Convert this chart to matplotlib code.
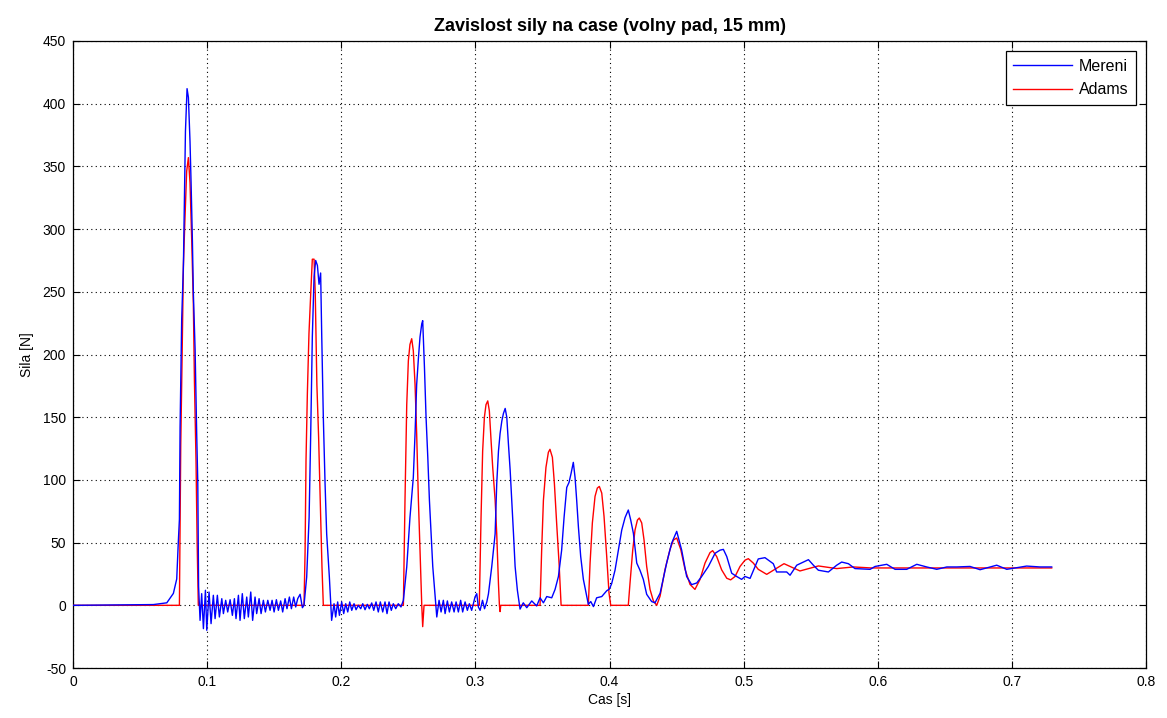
import matplotlib
matplotlib.use("Agg")
import matplotlib.pyplot as plt
import numpy as np

plt.rcParams['font.family'] = ['Liberation Sans', 'DejaVu Sans']

t_mereni = [0.0, 0.0599, 0.0699, 0.0748, 0.0773, 0.0785, 0.0793, 0.0798, 0.0810, 0.0823,
            0.0838, 0.0850, 0.0860, 0.0872, 0.0880, 0.0890, 0.0897, 0.0910, 0.0922, 0.0930,
            0.0936, 0.0947, 0.0959, 0.0972, 0.0987, 0.0997, 0.1014, 0.1029, 0.1046, 0.1059,
            0.1076, 0.1091, 0.1109, 0.1121, 0.1138, 0.1153, 0.1171, 0.1188, 0.1203, 0.1215,
            0.1233, 0.1245, 0.1262, 0.1277, 0.1295, 0.1307, 0.1325, 0.1339, 0.1357, 0.1369,
            0.1387, 0.1402, 0.1419, 0.1434, 0.1452, 0.1469, 0.1484, 0.1499, 0.1516, 0.1531,
            0.1548, 0.1563, 0.1581, 0.1595, 0.1613, 0.1628, 0.1645, 0.1660, 0.1675, 0.1693,
            0.1710, 0.1722, 0.1742, 0.1760, 0.1772, 0.1784, 0.1797, 0.1809, 0.1822, 0.1834,
            0.1846, 0.1854, 0.1866, 0.1879, 0.1891, 0.1911, 0.1928, 0.1946, 0.1958, 0.1973,
            0.1986, 0.2003, 0.2018, 0.2033, 0.2048, 0.2063, 0.2078, 0.2095, 0.2110, 0.2127,
            0.2145, 0.2160, 0.2177, 0.2194, 0.2209, 0.2227, 0.2242, 0.2259, 0.2276, 0.2291,
            0.2309, 0.2326, 0.2341, 0.2356, 0.2373, 0.2388, 0.2406, 0.2425, 0.2445, 0.2463,
            0.2488, 0.2512, 0.2537, 0.2550, 0.2562, 0.2575, 0.2587, 0.2600, 0.2607, 0.2620,
            0.2632, 0.2645, 0.2657, 0.2670, 0.2682, 0.2700, 0.2712, 0.2729, 0.2744, 0.2761,
            0.2774, 0.2791, 0.2806, 0.2823, 0.2841, 0.2856, 0.2873, 0.2890, 0.2905, 0.2923,
            0.2940, 0.2955, 0.2972, 0.2985, 0.2997, 0.3010, 0.3022, 0.3035, 0.3053, 0.3068,
            0.3085, 0.3097, 0.3122, 0.3147, 0.3159, 0.3172, 0.3184, 0.3197, 0.3209, 0.3222,
            0.3234, 0.3246, 0.3259, 0.3271, 0.3284, 0.3296, 0.3313, 0.3333, 0.3357, 0.3383,
            0.3420, 0.3457, 0.3482, 0.3507, 0.3532, 0.3569, 0.3594, 0.3619, 0.3643, 0.3661,
            0.3681, 0.3698, 0.3713, 0.3730, 0.3743, 0.3755, 0.3768, 0.3785, 0.3805, 0.3825,
            0.3842, 0.3860, 0.3880, 0.3904, 0.3942, 0.3979, 0.3999, 0.4016, 0.4041, 0.4066,
            0.4091, 0.4116, 0.4140, 0.4158, 0.4178, 0.4203, 0.4227, 0.4252, 0.4277, 0.4314,
            0.4339, 0.4377, 0.4426, 0.4463, 0.4501, 0.4538, 0.4575, 0.4612, 0.4650, 0.4687,
            0.4737, 0.4787, 0.4824, 0.4849, 0.4874, 0.4911, 0.4948, 0.4985, 0.5010, 0.5048,
            0.5085, 0.5109, 0.5159, 0.5221, 0.5246, 0.5321, 0.5346, 0.5396, 0.5483, 0.5520,
            0.5557, 0.5632, 0.5694, 0.5731, 0.5781, 0.5830, 0.5943, 0.5980, 0.6067, 0.6129,
            0.6216, 0.6291, 0.6365, 0.6440, 0.6515, 0.6589, 0.6688, 0.6763, 0.6887, 0.6962,
            0.7110, 0.7210, 0.7297]
f_mereni = [0, 0.6, 2, 9.5, 21, 51, 68.6, 142, 228, 272,
            378, 412, 405, 370, 337, 290, 249, 204, 136, 98,
            15, -12, 9.3, -18.6, 12, -19.9, 10.6, -14.6, 8, -10.6,
            8, -9.3, 5.3, -6.6, 4, -5.3, 4.5, -8, 5.3, -10.6,
            8, -12, 9.3, -10.6, 6.6, -9.3, 10.6, -12, 6.6, -6.6,
            5.3, -6.6, 4, -5.3, 4, -4, 4, -5.3, 4.5, -4,
            3.5, -5.3, 5.3, -2.7, 6.6, -2.7, 6.6, -1.3, 5.3, 8.8,
            -1.9, 0, 22.6, 70, 137, 214, 262, 275, 271, 256,
            265, 216, 150, 97, 57, 22.6, -12, 1.3, -9.3, 2.7,
            -8, 2.7, -6.6, 1.3, -5.3, 2.7, -4, 1.3, -3.5, 0,
            -2.7, 1.3, -3.5, 0.8, -2.7, 1.9, -4, 2.7, -5.3, 2.7,
            -5.3, 2.7, -6.6, 2.7, -4, 1.3, -2.7, 1.3, -1.3, 4,
            30.6, 70, 102, 137, 176, 197, 214, 224.5, 227, 190,
            150, 118, 84, 57, 31, 7, -9.3, 4, -5.3, 4,
            -6.6, 3.5, -5.3, 2.7, -5.3, 2.7, -5.3, 4, -5.3, 2.7,
            -4, 1.3, -4, 1.3, 6.6, 9.3, -1.3, -4, 4, -2.7,
            2.7, 9, 31, 57, 97, 123, 137, 147, 153, 157,
            150, 129, 108, 84, 57, 31, 12, -3, 2, -1.9,
            3.5, -0.5, 6, 2, 7, 6, 12.7, 23, 44, 70,
            94, 98, 105, 114, 102, 84, 62.5, 39, 20.7, 10,
            0.8, 3, -1, 6, 7, 11.6, 13, 17.3, 28, 44,
            60, 70, 76, 68, 57.4, 33.7, 28, 20.7, 8.8, 3,
            2, 9.6, 33.7, 49.5, 59, 44, 23, 16.5, 17.8, 23,
            31, 41.5, 44, 44.6, 38.9, 25.6, 23, 20.7, 23, 21.5,
            31, 37, 38, 33.2, 26.6, 26.6, 24, 32, 36.4, 32,
            28, 26.6, 32, 34.5, 33.2, 29.3, 28.7, 31, 32.7, 28.7,
            28.7, 32.7, 30.6, 28.7, 30.6, 30.6, 31, 28.4, 32, 28.7,
            31.3, 30.6, 30.6]

# Adams (simulated force)
t_adams = [0.0, 0.0793, 0.0803, 0.0813, 0.0823, 0.0835, 0.0847, 0.0860, 0.0872, 0.0885,
           0.0897, 0.0905, 0.0917, 0.0925, 0.0934, 0.1722, 0.1730, 0.1737, 0.1747, 0.1759,
           0.1772, 0.1784, 0.1797, 0.1806, 0.1818, 0.1831, 0.1843, 0.1856, 0.1866, 0.2463,
           0.2475, 0.2488, 0.2500, 0.2512, 0.2525, 0.2537, 0.2550, 0.2562, 0.2575, 0.2587,
           0.2600, 0.2607, 0.2617, 0.3029, 0.3042, 0.3054, 0.3067, 0.3079, 0.3092, 0.3104,
           0.3117, 0.3129, 0.3147, 0.3159, 0.3172, 0.3179, 0.3184, 0.3189, 0.3482, 0.3494,
           0.3507, 0.3526, 0.3544, 0.3556, 0.3574, 0.3589, 0.3606, 0.3624, 0.3639, 0.3842,
           0.3855, 0.3872, 0.3892, 0.3909, 0.3924, 0.3942, 0.3959, 0.3979, 0.3996, 0.4009,
           0.4140, 0.4153, 0.4173, 0.4190, 0.4208, 0.4222, 0.4240, 0.4257, 0.4277, 0.4302,
           0.4327, 0.4352, 0.4377, 0.4414, 0.4451, 0.4476, 0.4501, 0.4531, 0.4563, 0.4600,
           0.4637, 0.4675, 0.4712, 0.4749, 0.4769, 0.4799, 0.4836, 0.4874, 0.4903, 0.4936,
           0.4973, 0.5010, 0.5035, 0.5072, 0.5109, 0.5172, 0.5301, 0.5420, 0.5557, 0.5694,
           0.5818, 0.5950, 0.7297]
f_adams = [0, 0, 127.6, 198, 272, 310, 346, 357, 337, 290,
           240, 179, 114, 51, 0, 0, 42.5, 115.6, 168.8, 216.7,
           248.3, 276, 276, 248, 176, 134, 83.7, 30.6, 0, 0,
           83.7, 160, 195, 208, 212.6, 203, 176, 137, 83.7, 44,
           0, -17, 0, 0, 70, 123, 150, 160, 163, 155,
           131, 110, 84, 57, 17, 0, -5, 0, 0, 43.9,
           83.7, 110, 122, 124.4, 118, 97, 65, 33, 0, 0,
           33.7, 65.7, 86.9, 93.5, 94.8, 89.5, 71, 39, 10, 0,
           0, 18, 44, 60, 68, 69.6, 65.7, 52.4, 31, 12.7,
           3.5, 0, 7.4, 28.7, 44.6, 52, 53.7, 44.6, 28.7, 16.7,
           12.7, 20.7, 33.7, 42, 43.6, 38.9, 28.3, 21.6, 20.3, 23,
           31, 36, 37.2, 33.7, 28.7, 24.7, 33.2, 27.4, 31.4, 29.3,
           30.6, 29.8, 29.8]

xticks = np.arange(0, 0.81, 0.1)
yticks = np.arange(-50, 451, 50)

fig = plt.figure(figsize=(11.67, 7.18), dpi=100)
ax = fig.add_axes([0.0626, 0.0696, 0.9194, 0.8733])

l_mer, = ax.plot(t_mereni, f_mereni, color=(0, 0, 1), lw=1.0, zorder=4, label='Mereni')
l_ad, = ax.plot(t_adams, f_adams, color=(1, 0, 0), lw=1.0, zorder=3, label='Adams')

ax.set_xlim(0, 0.8)
ax.set_ylim(-50, 450)
ax.set_xticks(xticks)
ax.set_yticks(yticks)
ax.set_xticklabels(['0', '0.1', '0.2', '0.3', '0.4', '0.5', '0.6', '0.7', '0.8'])
ax.set_yticklabels([str(int(v)) for v in yticks])

ax.grid(True, color='black', linestyle=(0, (1, 3)), linewidth=0.8)
ax.tick_params(direction='in', length=5, width=0.8, top=True, right=True, labelsize=10,
               colors='black', pad=5)
for sp in ax.spines.values():
    sp.set_linewidth(0.9)

ax.set_title('Zavislost sily na case (volny pad, 15 mm)', fontsize=13, fontweight='bold', pad=7)
ax.set_xlabel('Cas [s]', fontsize=10, labelpad=3)
ax.set_ylabel('Sila [N]', fontsize=10, labelpad=6)

leg = ax.legend(handles=[l_mer, l_ad], loc='upper right', fontsize=11.5, fancybox=False,
                edgecolor='black', framealpha=1, handlelength=3.7, handletextpad=0.4,
                borderaxespad=0.65, labelspacing=0.55, borderpad=0.45)
leg.get_frame().set_linewidth(0.9)

fig.savefig('out.png', dpi=100)
